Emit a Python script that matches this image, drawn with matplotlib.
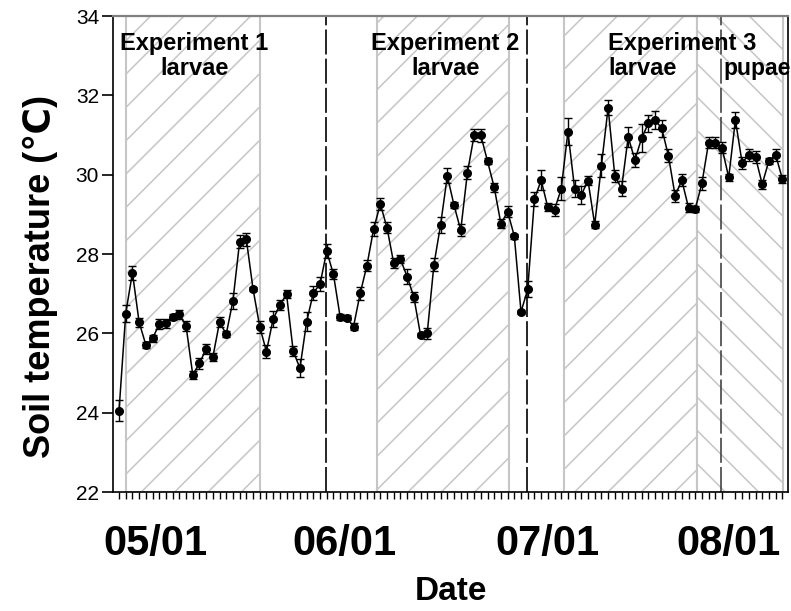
import matplotlib
matplotlib.use("Agg")
import matplotlib.pyplot as plt
import numpy as np

# daily mean soil temperature (deg C), starting 05/01
temps = [24.05, 26.50, 27.53, 26.28, 25.71, 25.87, 26.23, 26.25, 26.42, 26.48,
         26.19, 24.96, 25.24, 25.61, 25.40, 26.28, 25.98, 26.82, 28.31, 28.37,
         27.12, 26.17, 25.54, 26.36, 26.71, 26.99, 25.55, 25.12, 26.29, 27.02,
         27.24, 28.07, 27.49, 26.42, 26.39, 26.17, 27.01, 27.71, 28.63, 29.26,
         28.66, 27.77, 27.87, 27.43, 26.92, 25.96, 26.00, 27.73, 28.74, 29.97,
         29.23, 28.60, 30.05, 30.99, 30.99, 30.34, 29.68, 28.76, 29.07, 28.45,
         26.54, 27.11, 29.38, 29.86, 29.18, 29.12, 29.64, 31.08, 29.65, 29.49,
         29.85, 28.74, 30.23, 31.69, 29.97, 29.65, 30.95, 30.37, 30.92, 31.29,
         31.38, 31.17, 30.48, 29.47, 29.86, 29.17, 29.13, 29.78, 30.81, 30.81,
         30.68, 29.93, 31.38, 30.30, 30.50, 30.44, 29.76, 30.35, 30.50, 29.90]
errs = [0.27, 0.22, 0.18, 0.11, 0.08, 0.08, 0.13, 0.11, 0.08, 0.11,
        0.12, 0.10, 0.15, 0.13, 0.11, 0.12, 0.08, 0.20, 0.17, 0.16,
        0.06, 0.15, 0.16, 0.20, 0.13, 0.10, 0.13, 0.23, 0.24, 0.17,
        0.18, 0.18, 0.13, 0.08, 0.06, 0.08, 0.16, 0.13, 0.17, 0.14,
        0.14, 0.12, 0.10, 0.18, 0.12, 0.06, 0.14, 0.16, 0.20, 0.19,
        0.07, 0.15, 0.17, 0.15, 0.16, 0.07, 0.11, 0.11, 0.14, 0.06,
        0.05, 0.20, 0.18, 0.25, 0.10, 0.15, 0.29, 0.34, 0.21, 0.22,
        0.12, 0.09, 0.30, 0.19, 0.15, 0.20, 0.25, 0.18, 0.35, 0.21,
        0.22, 0.21, 0.17, 0.15, 0.15, 0.11, 0.07, 0.17, 0.15, 0.14,
        0.14, 0.08, 0.20, 0.15, 0.15, 0.15, 0.11, 0.08, 0.15, 0.10]
month_labels = ["05/01", "06/01", "07/01", "08/01"]

# experiment periods (day index from 05/01)
larvae_spans = [(1.0, 21.0), (38.5, 58.25), (66.4, 86.2)]
pupae_span = (86.2, 99.05)
dashed_days = [30.85, 60.85]
pupae_dash = 89.85

days = np.arange(len(temps))
plt.rcParams["font.family"] = ["Liberation Sans", "DejaVu Sans"]
plt.rcParams["hatch.linewidth"] = 1.1

fig = plt.figure(figsize=(7.91, 6.11), dpi=100)
ax = fig.add_axes([113 / 791, 1 - 492 / 611, 675 / 791, 476 / 611])

hatch_grey = "#c6c6c6"
for x0, x1 in larvae_spans:
    ax.axvspan(x0, x1, facecolor="white", edgecolor=hatch_grey, hatch="/", lw=1.5, zorder=0)
ax.axvspan(*pupae_span, facecolor="white", edgecolor=hatch_grey, hatch="\\", lw=1.5, zorder=0)

for d in dashed_days:
    ax.axvline(d, color="black", lw=1.2, ls=(0, (15, 2.5)), zorder=1)
ax.axvline(pupae_dash, color="#444444", lw=1.2, ls=(0, (15, 2.5)), zorder=1)

ax.errorbar(days, temps, yerr=errs, color="black", lw=1.1, marker="o", ms=5.5,
            capsize=3, capthick=1, elinewidth=1, zorder=3)

ax.set_xlim(-0.9, 99.85)
ax.set_ylim(22, 34)
ax.set_yticks(np.arange(22, 35, 2))
ax.tick_params(axis="y", direction="out", length=8, width=1.2, labelsize=15, pad=2)

ax.set_xticks([5.4, 33.7, 63.9, 91.0])
ax.set_xticklabels(month_labels, fontsize=30, fontweight="bold")
ax.set_xticks(days, minor=True)
ax.tick_params(axis="x", which="major", length=0, pad=23)
ax.tick_params(axis="x", which="minor", direction="out", length=5, width=1)

ax.set_xlabel("Date", fontsize=24, fontweight="bold", labelpad=9)
fig.text(40 / 791, 1 - 276 / 611, "Soil temperature (℃)", rotation=90, ha="center",
         va="center", fontsize=26, fontweight="bold")

for side in ["left", "bottom", "right"]:
    ax.spines[side].set_linewidth(1.2)
    ax.spines[side].set_color("black")
ax.spines["top"].set_color("#808080")
ax.spines["top"].set_linewidth(1.6)

txt = dict(fontsize=17, fontweight="bold", va="top", linespacing=1.1)
ax.text(11.2, 33.6, "Experiment 1\nlarvae", ha="center", **txt)
ax.text(48.7, 33.6, "Experiment 2\nlarvae", ha="center", **txt)
ax.text(73.0, 33.6, "Experiment 3", ha="left", **txt)
ax.text(73.0, 32.97, "larvae", ha="left", **txt)
ax.text(90.2, 32.97, "pupae", ha="left", fontsize=16.5, fontweight="bold", va="top")

fig.savefig("out.png", dpi=100)
